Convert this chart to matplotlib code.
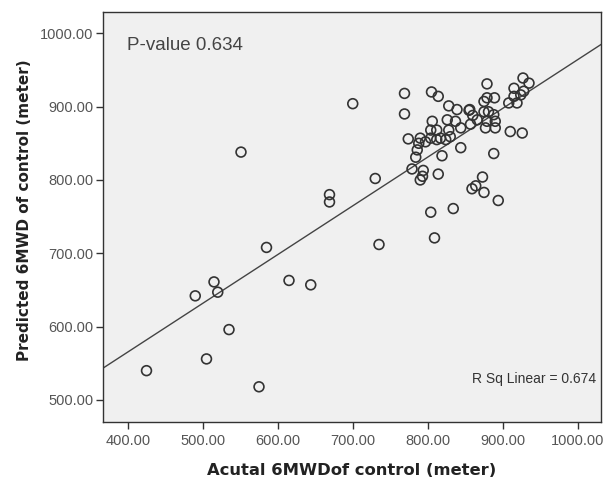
import numpy as np
import matplotlib
matplotlib.use("Agg")
import matplotlib.pyplot as plt

actual = [425, 490, 505, 515, 520, 535, 551, 575, 585, 615, 644, 669, 669, 700, 730, 735,
          769, 769, 774, 779, 784, 786, 788, 790, 793, 794, 790, 797,
          804, 809, 814, 819, 834, 844, 859, 864, 873, 875, 888, 894,
          805, 814, 828, 839, 855, 806, 826, 837, 804, 812, 828, 844, 804, 817, 830, 812, 824,
          856, 860, 857, 866,
          879, 927, 935, 915, 928, 915, 924, 879, 889, 875, 908, 919, 875, 881, 888, 879, 890,
          877, 890, 910, 926]
predicted = [540, 642, 556, 661, 647, 596, 838, 518, 708, 663, 657, 780, 770, 904, 802, 712,
             918, 890, 856, 815, 831, 841, 850, 800, 805, 813, 857, 852,
             756, 721, 808, 833, 761, 844, 788, 792, 804, 783, 836, 772,
             920, 914, 901, 896, 895, 880, 882, 880, 868, 868, 868, 871, 857, 857, 859, 855, 855,
             896, 888, 876, 882,
             931, 939, 932, 925, 921, 914, 916, 912, 912, 907, 905, 905, 893, 893, 889, 880, 880,
             871, 871, 866, 864]

x_ticks = [400, 500, 600, 700, 800, 900, 1000]
y_ticks = [500, 600, 700, 800, 900, 1000]
p_value_text = "P-value 0.634"
r2_text = "R Sq Linear = 0.674"
x_label = "Acutal 6MWDof control (meter)"
y_label = "Predicted 6MWD of control (meter)"

plt.rcParams['font.family'] = ['Liberation Sans', 'DejaVu Sans']

fig = plt.figure(figsize=(6.03, 4.82), dpi=100)
ax = fig.add_axes([103/603, 1 - 422/482, (601 - 103)/603, (422 - 12)/482])
ax.set_facecolor('#f0f0f0')

xa = np.array(actual, float)
ya = np.array(predicted, float)
ax.scatter(xa, ya, s=50, facecolors='none', edgecolors='#333333', linewidths=1.2, zorder=3)

xlim = (367, 1031)
ylim = (470, 1029)
slope, intercept = np.polyfit(xa, ya, 1)
xx = np.array(xlim)
ax.plot(xx, slope * xx + intercept, color='#444444', lw=1.0, zorder=2)

ax.set_xlim(*xlim)
ax.set_ylim(*ylim)
ax.set_xticks(x_ticks)
ax.set_yticks(y_ticks)
ax.set_xticklabels([f"{v:.2f}" for v in x_ticks])
ax.set_yticklabels([f"{v:.2f}" for v in y_ticks])
ax.tick_params(axis='both', direction='out', length=5, width=1, color='#333333',
               labelcolor='#555555', labelsize=10.5)
ax.tick_params(axis='y', pad=2)
for sp in ax.spines.values():
    sp.set_color('#333333')
    sp.set_linewidth(1.0)

ax.set_xlabel(x_label, fontsize=11.8, fontweight='bold', color='#222222', labelpad=11,
              family=['DejaVu Sans'])
ax.set_ylabel(y_label, fontsize=11, fontweight='bold', color='#222222',
              family=['DejaVu Sans'], va='center')
ax.yaxis.set_label_coords(-0.157, 0.517)

ax.text(0.048, 0.918, p_value_text, transform=ax.transAxes, fontsize=13.5, color='#444444',
        ha='left', va='center')
ax.text(0.99, 0.105, r2_text, transform=ax.transAxes, fontsize=10, color='#333333',
        ha='right', va='center')

fig.savefig("out.png", dpi=100, facecolor='white')
